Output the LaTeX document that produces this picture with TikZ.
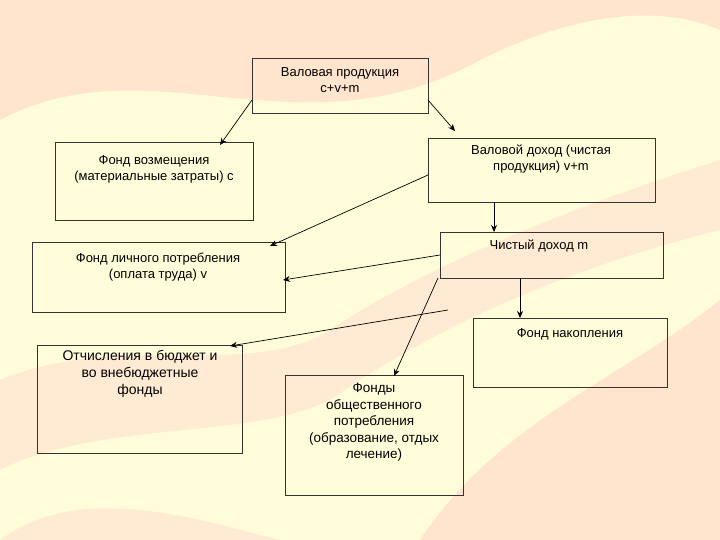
\documentclass[tikz,border=0pt]{standalone}
\usepackage{fontspec}
\setmainfont{Liberation Sans}
\usetikzlibrary{arrows.meta}
\begin{document}
\begin{tikzpicture}[x=1pt,y=-1pt,
  box/.style={draw=black!80,line width=0.7pt,inner sep=0pt},
  lbl/.style={font=\fontsize{13}{16}\selectfont,align=center,anchor=north},
  arr/.style={line width=0.7pt,-{Stealth[length=7pt,width=6pt]}}]
\useasboundingbox (0,0) rectangle (720,540);
\fill[yellow!15] (0,0) rectangle (720,540);
\fill[red!25,opacity=0.4] (0,120) .. controls (150,40) and (300,160) .. (480,60) .. controls (560,20) and (650,0) .. (720,30) -- (720,0) -- (0,0) -- cycle;
\fill[red!25,opacity=0.4] (420,540) .. controls (500,420) and (620,380) .. (720,300) -- (720,540) -- cycle;
\fill[red!20,opacity=0.35] (0,380) .. controls (120,330) and (250,380) .. (330,330) .. controls (420,270) and (560,210) .. (720,160) -- (720,230) .. controls (560,270) and (430,330) .. (330,400) .. controls (250,440) and (100,420) .. (0,470) -- cycle;
\fill[red!20,opacity=0.35] (0,540) .. controls (80,480) and (200,520) .. (280,540) -- cycle;

\node[box,minimum width=176,minimum height=55,anchor=north west] (a) at (252,58) {};
\node[lbl] at (340,64) {Валовая продукция\\c+v+m};
\node[box,minimum width=198,minimum height=78,anchor=north west] (b) at (55,142) {};
\node[lbl] at (154,152) {Фонд возмещения\\(материальные затраты) c};
\node[box,minimum width=227,minimum height=64,anchor=north west] (c) at (428,138) {};
\node[lbl] at (541,141) {Валовой доход (чистая\\продукция) v+m};
\node[box,minimum width=253,minimum height=70,anchor=north west] (d) at (32,242) {};
\node[lbl] at (158,249) {Фонд личного потребления\\(оплата труда) v};
\node[box,minimum width=223,minimum height=46,anchor=north west] (e) at (440,232) {};
\node[lbl] at (539,236) {Чистый доход m};
\node[box,minimum width=194,minimum height=69,anchor=north west] (f) at (473,318) {};
\node[lbl] at (570,325) {Фонд накопления};
\node[box,minimum width=205,minimum height=108,anchor=north west] (g) at (37,345) {};
\node[lbl,font=\fontsize{14}{17}\selectfont] at (140,347) {Отчисления в бюджет и\\во внебюджетные\\фонды};
\node[box,minimum width=178,minimum height=120,anchor=north west] (h) at (285,375) {};
\node[lbl,font=\fontsize{13.5}{16.5}\selectfont] at (374,380) {Фонды\\общественного\\потребления\\(образование, отдых\\лечение)};

\coordinate (a1) at (252,100); \coordinate (b1) at (220,145);
\coordinate (a2) at (428,100); \coordinate (c1) at (455,131);
\coordinate (c2) at (428,175); \coordinate (d1) at (270,246);
\coordinate (c3) at (494,202); \coordinate (e1) at (494,232);
\coordinate (e2) at (440,255); \coordinate (d2) at (283,280);
\coordinate (e3) at (520,278); \coordinate (f1) at (520,318);
\coordinate (e4) at (448,310); \coordinate (g1) at (230,346);
\coordinate (e5) at (438,278); \coordinate (h1) at (394,376);
\draw[arr] (a1) -- (b1);
\draw[arr] (a2) -- (c1);
\draw[arr] (c2) -- (d1);
\draw[arr] (c3) -- (e1);
\draw[arr] (e2) -- (d2);
\draw[arr] (e3) -- (f1);
\draw[arr] (e4) -- (g1);
\draw[arr] (e5) -- (h1);
\end{tikzpicture}
\end{document}
